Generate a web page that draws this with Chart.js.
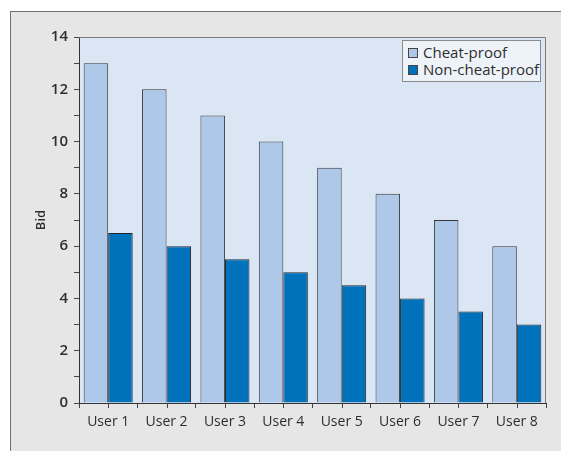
<!DOCTYPE html>
<html>
<head>
<meta charset="utf-8">
<script src="https://cdn.jsdelivr.net/npm/chart.js@4"></script>
<style>
  html, body { margin: 0; padding: 0; background: #ffffff; }
  #wrap { position: relative; width: 561px; height: 451px; overflow: hidden; }
  #panel { position: absolute; left: 10px; top: 11px; right: -2px; bottom: -2px;
           background: #e6e6e6; border-left: 1px solid #707070; border-top: 1px solid #707070; }
  #chart { position: absolute; left: 0; top: 0; }
  #legend { position: absolute; left: 402px; top: 40px; width: 137px; height: 40px;
            background: #eef3fa; border: 1px solid #8a8a8a;
            font-family: "Open Sans", sans-serif; font-size: 15px; color: #2e2e2e; }
  #legend .item { position: absolute; left: 5px; height: 17px; line-height: 17px; white-space: nowrap; }
  #legend .sw { display: inline-block; width: 8px; height: 8px; border: 1px solid #444;
                vertical-align: middle; margin-right: 5px; position: relative; top: -1px; }
</style>
</head>
<body>
<div id="wrap">
  <div id="panel"></div>
  <canvas id="chart" width="561" height="451"></canvas>
  <div id="legend"></div>
</div>
<script>
// Bids per user under each mechanism
const users = ['User 1', 'User 2', 'User 3', 'User 4', 'User 5', 'User 6', 'User 7', 'User 8'];
const cheatProof = [13, 12, 11, 10, 9, 8, 7, 6];
const nonCheatProof = [6.5, 6, 5.5, 5, 4.5, 4, 3.5, 3];
const seriesNames = ['Cheat-proof', 'Non-cheat-proof'];
const seriesColors = ['#aec8e9', '#0072bc'];
const yMin = 0, yMax = 14, yStep = 1;

// Light blue plot background with a thin frame
const plotBackground = {
  id: 'plotBackground',
  beforeDraw(chart) {
    const { ctx, chartArea: a } = chart;
    ctx.save();
    ctx.fillStyle = '#dbe6f4';
    ctx.fillRect(a.left, a.top, a.right - a.left, a.bottom - a.top);
    ctx.restore();
  },
  afterDraw(chart) {
    const { ctx, chartArea: a } = chart;
    ctx.save();
    ctx.strokeStyle = '#7a7a7a';
    ctx.lineWidth = 1;
    ctx.beginPath();
    ctx.moveTo(a.left, a.top + 0.5);
    ctx.lineTo(a.right - 0.5, a.top + 0.5);
    ctx.lineTo(a.right - 0.5, a.bottom);
    ctx.stroke();
    // extra tick marks at the centre of each category
    const x = chart.scales.x;
    ctx.strokeStyle = '#444';
    ctx.beginPath();
    users.forEach((u, i) => {
      const px = Math.round(x.getPixelForValue(i)) + 0.5;
      ctx.moveTo(px, a.bottom);
      ctx.lineTo(px, a.bottom + 5);
    });
    ctx.stroke();
    ctx.restore();
  }
};

new Chart(document.getElementById('chart'), {
  type: 'bar',
  data: {
    labels: users,
    datasets: [
      { label: seriesNames[0], data: cheatProof, backgroundColor: seriesColors[0],
        borderColor: '#383838', borderWidth: 1 },
      { label: seriesNames[1], data: nonCheatProof, backgroundColor: seriesColors[1],
        borderColor: '#222', borderWidth: 1 }
    ]
  },
  options: {
    responsive: false,
    animation: false,
    devicePixelRatio: 1,
    layout: { padding: { top: 37, right: 15, bottom: 0, left: 0 } },
    datasets: { bar: { barPercentage: 1.0, categoryPercentage: 0.84 } },
    plugins: { legend: { display: false }, tooltip: { enabled: false } },
    scales: {
      x: {
        afterFit: s => { s.height = 48; },
        grid: { offset: true, drawOnChartArea: false, tickLength: 5, color: '#444' },
        border: { display: true, color: '#333' },
        ticks: { font: { family: '"Open Sans", sans-serif', size: 14 }, color: '#2e2e2e', padding: 6 }
      },
      y: {
        min: yMin, max: yMax,
        afterFit: s => { s.width = 79; },
        grid: { drawOnChartArea: false, tickLength: 5, color: '#444' },
        border: { display: true, color: '#333' },
        ticks: {
          stepSize: yStep, autoSkip: false, padding: 6, color: '#2e2e2e',
          font: { family: '"Open Sans", sans-serif', size: 15, weight: '600' },
          callback: v => (v % 2 === 0 ? v : '')
        },
        title: { display: true, text: 'Bid', color: '#2e2e2e',
                 font: { family: '"Open Sans", sans-serif', size: 13, weight: '600' },
                 padding: { top: 33, bottom: 0 } }
      }
    }
  },
  plugins: [plotBackground]
});

// Legend built from the series names and colours
const legend = document.getElementById('legend');
seriesNames.forEach((name, i) => {
  const item = document.createElement('div');
  item.className = 'item';
  item.style.top = (3 + i * 17) + 'px';
  const sw = document.createElement('span');
  sw.className = 'sw';
  sw.style.background = seriesColors[i];
  item.appendChild(sw);
  item.appendChild(document.createTextNode(name));
  legend.appendChild(item);
});
</script>
</body>
</html>
